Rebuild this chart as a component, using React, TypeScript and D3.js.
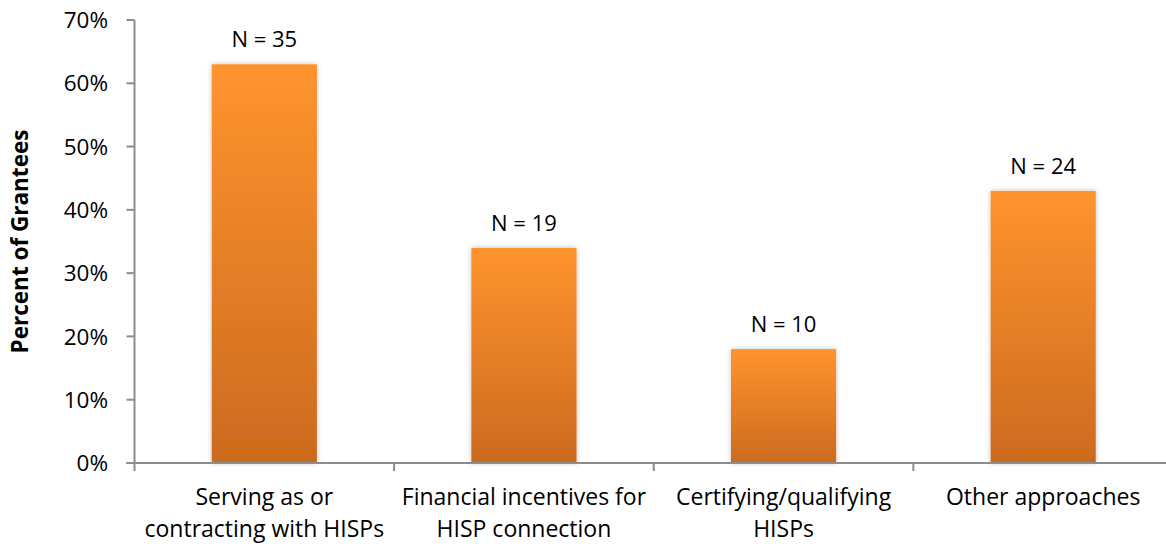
import React from "react";
import * as d3 from "d3";

const categories: string[][] = [
  ["Serving as or", "contracting with HISPs"],
  ["Financial incentives for", "HISP connection"],
  ["Certifying/qualifying", "HISPs"],
  ["Other approaches"],
];
const values: number[] = [0.63, 0.34, 0.18, 0.43];
const nLabels: string[] = ["N = 35", "N = 19", "N = 10", "N = 24"];
const yTicks: number[] = [0, 0.1, 0.2, 0.3, 0.4, 0.5, 0.6, 0.7];

const W = 1166;
const H = 544;
const FONT = "'Open Sans', sans-serif";

export default function App() {
  const left = 134.5;
  const right = 1173;
  const top = 20;
  const bottom = 463;
  const x = d3
    .scaleBand<number>()
    .domain(values.map((_, i) => i))
    .range([left, right])
    .paddingInner(0.595)
    .paddingOuter(0.2975);
  const bandStep = (right - left) / values.length;
  const y = d3.scaleLinear().domain([0, 0.7]).range([bottom, top]);
  const fmt = d3.format(".0%");

  return (
    <svg
      width={W}
      height={H}
      style={{ position: "absolute", left: 0, top: 0, background: "#fff" }}
    >
      <defs>
        <linearGradient id="barGrad" x1="0" y1="0" x2="0" y2="1">
          <stop offset="0%" stopColor="#FF942E" />
          <stop offset="100%" stopColor="#CC6A1F" />
        </linearGradient>
        <filter id="shadow" x="-20%" y="-5%" width="140%" height="110%">
          <feDropShadow dx="0" dy="0" stdDeviation="2.5" floodColor="#000" floodOpacity="0.25" />
        </filter>
      </defs>

      {/* bars */}
      {values.map((v, i) => (
        <rect
          key={i}
          x={x(i)}
          y={y(v)}
          width={x.bandwidth()}
          height={y(0) - y(v)}
          fill="url(#barGrad)"
          filter="url(#shadow)"
        />
      ))}

      {/* N labels */}
      {values.map((v, i) => (
        <text
          key={i}
          x={(x(i) as number) + x.bandwidth() / 2}
          y={y(v) - 17}
          textAnchor="middle"
          fontFamily={FONT}
          fontSize={22}
          fill="#000"
        >
          {nLabels[i]}
        </text>
      ))}

      {/* y axis */}
      <line x1={left} x2={left} y1={top} y2={bottom} stroke="#8c8c8c" strokeWidth={2} />
      {yTicks.map((t) => (
        <g key={t}>
          <line x1={left - 8} x2={left} y1={y(t)} y2={y(t)} stroke="#8c8c8c" strokeWidth={2} />
          <text
            x={108}
            y={y(t)}
            dy="0.36em"
            textAnchor="end"
            fontFamily={FONT}
            fontSize={22.5}
            fill="#000"
          >
            {fmt(t)}
          </text>
        </g>
      ))}

      {/* x axis */}
      <line x1={left - 8} x2={W} y1={bottom} y2={bottom} stroke="#8c8c8c" strokeWidth={2} />
      {d3.range(values.length + 1).map((i) => (
        <line
          key={i}
          x1={left + i * bandStep}
          x2={left + i * bandStep}
          y1={bottom}
          y2={bottom + 8}
          stroke="#8c8c8c"
          strokeWidth={2}
        />
      ))}
      {categories.map((lines, i) => (
        <text
          key={i}
          textAnchor="middle"
          fontFamily={FONT}
          fontSize={23}
          fill="#000"
        >
          {lines.map((ln, j) => (
            <tspan key={j} x={(x(i) as number) + x.bandwidth() / 2} y={505 + j * 32}>
              {ln}
            </tspan>
          ))}
        </text>
      ))}

      {/* y title */}
      <text
        transform={`translate(28, ${(top + bottom) / 2}) rotate(-90)`}
        textAnchor="middle"
        fontFamily={FONT}
        fontSize={22.5}
        fontWeight="bold"
        fill="#000"
      >
        Percent of Grantees
      </text>
    </svg>
  );
}
